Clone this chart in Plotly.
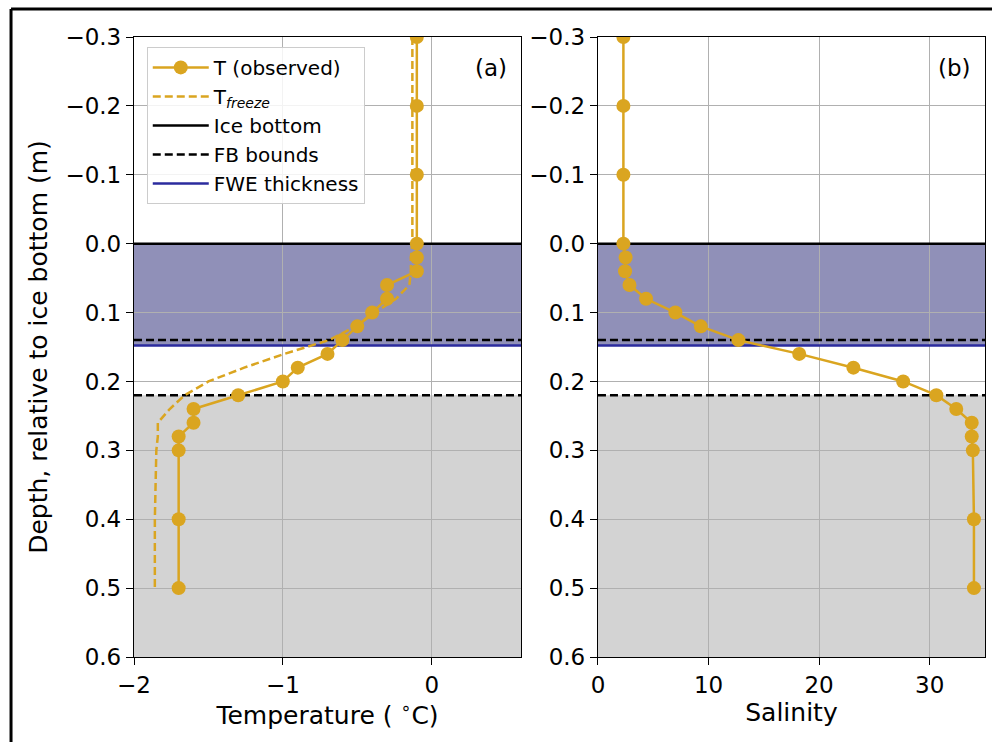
import plotly.graph_objects as go
from plotly.subplots import make_subplots

# ---- data ----
depth = [-0.3, -0.2, -0.1, 0.0, 0.02, 0.04, 0.06, 0.08, 0.10, 0.12, 0.14, 0.16,
         0.18, 0.20, 0.22, 0.24, 0.26, 0.28, 0.30, 0.40, 0.50]
temp_obs = [-0.10, -0.10, -0.10, -0.10, -0.10, -0.10, -0.30, -0.30, -0.40, -0.50, -0.60, -0.70,
            -0.90, -1.00, -1.30, -1.60, -1.60, -1.70, -1.70, -1.70, -1.70]
salinity = [2.3, 2.3, 2.3, 2.3, 2.5, 2.45, 2.85, 4.35, 7.0, 9.3, 12.7, 18.2,
            23.1, 27.6, 30.6, 32.4, 33.8, 33.8, 33.9, 34.0, 34.0]
temp_freeze = [-0.13, -0.13, -0.13, -0.13, -0.14, -0.14, -0.15, -0.24, -0.38, -0.51, -0.69, -0.99,
               -1.26, -1.50, -1.66, -1.76, -1.84, -1.84, -1.85, -1.86, -1.86]

ice_bottom = 0.0
fb_bounds = [0.14, 0.22]
fwe_thickness = 0.148
y_range = [-0.3, 0.6]
temp_range = [-2, 0.6]
sal_range = [0, 35]
panel_labels = ["(a)", "(b)"]

GOLD = "#DAA520"
FWE_FILL = "rgb(144,144,184)"
GRAY_FILL = "rgb(211,211,211)"
BLUE = "#2b2b9e"
FONT = "DejaVu Sans"
TICK_SIZE = 23
TITLE_SIZE = 25
DASH = "8px,4px"

fig = make_subplots(rows=1, cols=2, horizontal_spacing=0.0904)

# background bands (below gridlines)
for xr, yr in (("x", "y"), ("x2", "y2")):
    xd = xr + " domain"
    fig.add_shape(type="rect", xref=xd, yref=yr, x0=0, x1=1, y0=ice_bottom, y1=fwe_thickness,
                  fillcolor=FWE_FILL, line_width=0, layer="below")
    fig.add_shape(type="rect", xref=xd, yref=yr, x0=0, x1=1, y0=fb_bounds[1], y1=y_range[1],
                  fillcolor=GRAY_FILL, line_width=0, layer="below")

# horizontal reference lines as traces (drawn before data so markers sit on top)
for col, xrng in ((1, temp_range), (2, sal_range)):
    show = col == 1
    fig.add_trace(go.Scatter(x=xrng, y=[ice_bottom, ice_bottom], mode="lines", name="Ice bottom",
                             legendrank=3, showlegend=show, hoverinfo="skip",
                             line=dict(color="black", width=2.5)), row=1, col=col)
    for k, b in enumerate(fb_bounds):
        fig.add_trace(go.Scatter(x=xrng, y=[b, b], mode="lines", name="FB bounds",
                                 legendrank=4, showlegend=show and k == 0, hoverinfo="skip",
                                 line=dict(color="black", width=2.5, dash=DASH)), row=1, col=col)
    fig.add_trace(go.Scatter(x=xrng, y=[fwe_thickness, fwe_thickness], mode="lines",
                             name="FWE thickness", legendrank=5, showlegend=show, hoverinfo="skip",
                             line=dict(color=BLUE, width=2.5)), row=1, col=col)

fig.add_trace(go.Scatter(x=temp_freeze, y=depth, mode="lines", name="T<sub><i>freeze</i></sub>",
                         legendrank=2, line=dict(color=GOLD, width=2.5, dash=DASH)), row=1, col=1)
fig.add_trace(go.Scatter(x=temp_obs, y=depth, mode="lines+markers", name="T (observed)",
                         legendrank=1, line=dict(color=GOLD, width=2.5),
                         marker=dict(color=GOLD, size=14)), row=1, col=1)
fig.add_trace(go.Scatter(x=salinity, y=depth, mode="lines+markers", showlegend=False,
                         line=dict(color=GOLD, width=2.5), marker=dict(color=GOLD, size=14)),
              row=1, col=2)

for i, xr in enumerate(("x", "x2")):
    fig.add_annotation(text=panel_labels[i], xref=xr + " domain", yref="y domain",
                       x=0.97, y=0.975, xanchor="right", yanchor="top", showarrow=False,
                       font=dict(family=FONT, size=TICK_SIZE, color="black"))

axis_common = dict(showline=True, linecolor="black", linewidth=1.3, mirror=True,
                   ticks="outside", ticklen=7, tickwidth=1.2, tickcolor="black",
                   showgrid=True, gridcolor="#b0b0b0", gridwidth=1, zeroline=False,
                   tickfont=dict(family=FONT, size=TICK_SIZE, color="black"))

fig.update_xaxes(**axis_common)
fig.update_yaxes(**axis_common)
fig.update_xaxes(range=temp_range, dtick=1, row=1, col=1,
                 title=dict(text="Temperature ( <sup>∘</sup>C)", font=dict(family=FONT, size=TITLE_SIZE, color="black"), standoff=6))
fig.update_xaxes(range=sal_range, dtick=10, row=1, col=2,
                 title=dict(text="Salinity", font=dict(family=FONT, size=TITLE_SIZE, color="black"), standoff=6))
fig.update_yaxes(range=[y_range[1], y_range[0]], dtick=0.1, tickformat=".1f")
fig.update_yaxes(row=1, col=1, title=dict(text="Depth, relative to ice bottom (m)",
                                          font=dict(family=FONT, size=TITLE_SIZE, color="black"), standoff=10))

# outer frame
frame = dict(color="black", width=3)
fig.add_shape(type="line", xref="paper", yref="paper", x0=-0.1445, x1=1.01, y0=1.045, y1=1.045, line=frame)
fig.add_shape(type="line", xref="paper", yref="paper", x0=-0.1445, x1=-0.1445, y0=1.045, y1=-0.14, line=frame)

fig.update_layout(
    width=992, height=742,
    margin=dict(l=134, r=7, t=37, b=85),
    paper_bgcolor="white", plot_bgcolor="white",
    font=dict(family=FONT, size=TICK_SIZE, color="black"),
    legend=dict(x=0.015, y=0.984, xanchor="left", yanchor="top",
                bgcolor="rgba(255,255,255,0.85)", bordercolor="#cccccc", borderwidth=1,
                font=dict(family=FONT, size=20, color="black"), itemwidth=56,
                tracegroupgap=0, traceorder="normal"),
)

fig.write_html("out.html")
